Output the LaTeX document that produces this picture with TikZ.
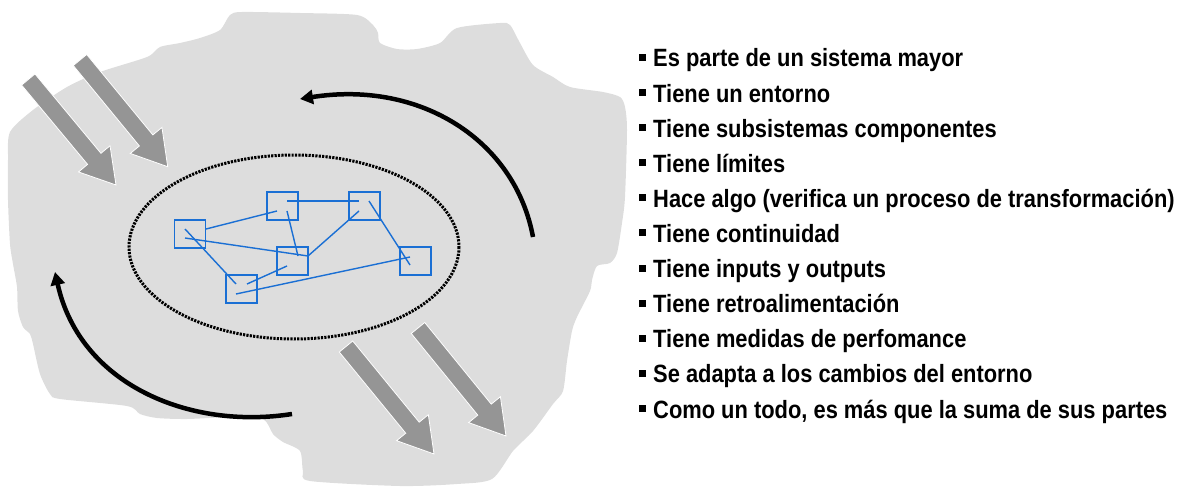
\documentclass[tikz,border=0pt]{standalone}
\usepackage{fontspec}
\setmainfont{Liberation Sans}
\newfontfamily\listfont[FakeStretch=0.875]{Liberation Sans}
\usetikzlibrary{calc,arrows.meta}
\definecolor{blobgray}{HTML}{DDDDDD}
\definecolor{arrgray}{HTML}{959595}
\definecolor{sysblue}{HTML}{1A6FD4}
\newcommand{\grayflow}[2]{%
  \coordinate (hb) at ($(#2)!34pt!(#1)$);
  \path[fill=arrgray, draw=white, line width=0.8pt, line join=miter]
    ($(#1)!8.7pt!90:(#2)$) -- ($(hb)!8.7pt!90:(#2)$) -- ($(hb)!20.5pt!90:(#2)$) -- (#2)
    -- ($(hb)!20.5pt!-90:(#2)$) -- ($(hb)!8.7pt!-90:(#2)$) -- ($(#1)!8.7pt!-90:(#2)$) -- cycle;
}
\begin{document}
\begin{tikzpicture}[x=1pt,y=-1pt,
  subbox/.style={draw=sysblue, line width=1.7pt, minimum width=31pt, minimum height=28pt, inner sep=0pt},
  link/.style={draw=sysblue, line width=1.4pt},
  flow/.style={draw=black, line width=4.5pt, -{Triangle[length=13pt,width=14pt]}},
  item/.style={anchor=base west, inner sep=0pt, font=\listfont\bfseries\fontsize{25pt}{28pt}\selectfont},
  boundary/.style={draw=black, line width=3pt, dash pattern=on 2.2pt off 1.2pt}
]
\useasboundingbox (0,0) rectangle (1184,489);

% environment blob
\fill[blobgray] plot[smooth cycle, tension=0.45] coordinates {
 (10,132) (33,110) (67,87) (100,72) (147,57) (160,47) (180,43) (200,38) (220,30) (230,15) (242,12)
 (300,13) (357,15) (373,25) (378,33) (380,43) (397,49) (417,49) (440,43) (457,28) (500,23) (510,25)
 (520,43) (533,65) (553,77) (570,87) (603,92) (620,97) (625,107) (627,130) (625,197) (622,223)
 (617,253) (610,263) (597,266) (592,280) (590,291) (577,317) (572,331) (567,361) (563,391) (553,404)
 (533,431) (513,451) (492,479) (457,484) (400,486) (310,481) (303,471) (300,451) (283,442) (273,434)
 (263,419) (233,417) (187,419) (157,418) (140,414) (127,406) (60,399) (50,394) (40,374) (33,344)
 (30,334) (23,327) (18,311) (17,287) (13,264) (10,244) (8,200) (8,160)};

% inputs and outputs
\coordinate (in1t) at (28.3,79.5);  \coordinate (in1h) at (116,185);
\coordinate (in2t) at (80,60);      \coordinate (in2h) at (167.7,166.7);
\coordinate (out1t) at (346,346.5); \coordinate (out1h) at (434,454);
\coordinate (out2t) at (418,328);   \coordinate (out2h) at (506,436);
\grayflow{in1t}{in1h}
\grayflow{in2t}{in2h}
\grayflow{out1t}{out1h}
\grayflow{out2t}{out2h}

% feedback arcs
\coordinate (u0) at (533,237); \coordinate (u1) at (300,99);
\draw[flow] (u0) .. controls (515,140) and (420,80) .. (u1);
\coordinate (l0) at (292,414); \coordinate (l1) at (55,272);
\draw[flow] (l0) .. controls (190,430) and (80,385) .. (l1);

% system boundary
\draw[boundary] (294,247) ellipse [x radius=165, y radius=92];

% subsystems
\node[subbox] (sB) at (282.5,206) {};
\node[subbox] (sC) at (364.5,206) {};
\node[subbox] (sD) at (292.5,261) {};
\node[subbox] (sE) at (241.5,289) {};
\node[subbox] (sF) at (415.5,261) {};
\node[subbox] (sA) at (190,234) {};

\draw[link] ([shift={(16,-5)}]sA.center) -- ([shift={(-5.5,5)}]sB.center);
\draw[link] ([shift={(4.5,-5)}]sB.center) -- ([shift={(-5.5,-5)}]sC.center);
\draw[link] ([shift={(4.5,5)}]sB.center) -- ([shift={(5.5,-5)}]sD.center);
\draw[link] ([shift={(-5,-5)}]sA.center) -- ([shift={(-5.5,-5)}]sE.center);
\draw[link] ([shift={(-5,4)}]sA.center) -- ([shift={(15.5,-5)}]sD.center);
\draw[link] ([shift={(15.5,-5)}]sD.center) -- ([shift={(-5.5,5)}]sC.center);
\draw[link] ([shift={(4.5,-5)}]sC.center) -- ([shift={(-5.5,4)}]sF.center);
\draw[link] ([shift={(5.5,-5)}]sE.center) -- ([shift={(-5.5,5)}]sD.center);
\draw[link] ([shift={(-5.5,5)}]sE.center) -- ([shift={(-5.5,-4)}]sF.center);

% list
\foreach \txt [count=\i] in {
  {Es parte de un sistema mayor},
  {Tiene un entorno},
  {Tiene subsistemas componentes},
  {Tiene límites},
  {Hace algo (verifica un proceso de transformación)},
  {Tiene continuidad},
  {Tiene inputs y outputs},
  {Tiene retroalimentación},
  {Tiene medidas de perfomance},
  {Se adapta a los cambios del entorno},
  {Como un todo, es más que la suma de sus partes}}
  \node[item] (t\i) at (639,{67+35.1*(\i-1)}) {\rule[6pt]{7pt}{7pt}\hspace{7pt}\txt};
\end{tikzpicture}
\end{document}
